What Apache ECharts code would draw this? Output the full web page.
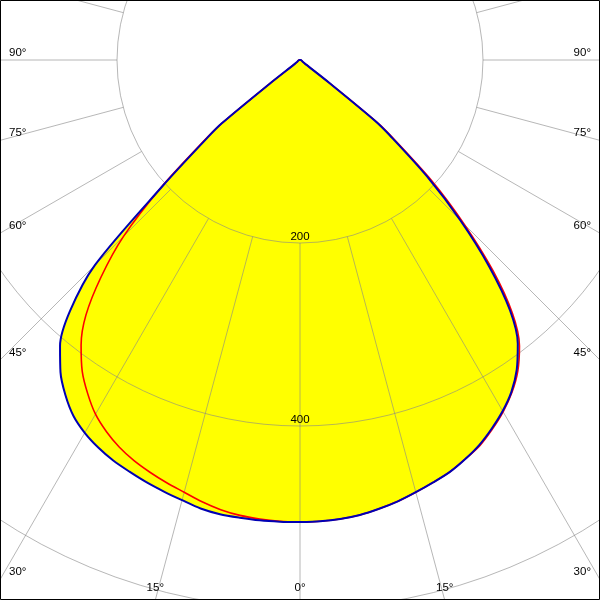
<!DOCTYPE html>
<html><head><meta charset="utf-8">
<script src="https://cdn.jsdelivr.net/npm/echarts@6/dist/echarts.min.js"></script>
<style>html,body{margin:0;padding:0;background:#fff}#c{width:600px;height:600px}</style>
</head><body><div id="c"></div>
<script>
// gamma angles (degrees from nadir)
const gammaAngles = [0,2.5,5,7.5,10,12.5,15,17.5,20,22.5,25,27.5,30,32.5,35,37.5,40,42.5,45,47.5,50,51,52,53,55,60,70,80,90,105,120,135,150,165,180];
// C0 plane (right half, blue)
const c0Values   = [505,504.5,503.5,501.5,498,494,489,484,479,472,464,454,443,430,413,391,357,306,248,188,128,105,40,8,4,3,2,1.5,1,0.5,0,0,0,0,0];
// C180 plane (left half, blue)
const c180Values = [505,505,505,504.5,504,502,498,494.5,491,487,483,477.5,470.5,461,447,430,408,372,317,203,132,110,42,8,4,3,2,1.5,1,0.5,0,0,0,0,0];
// C90 plane (right half, red)
const c90Values  = [505,504.5,503.5,501.5,498,494,489,484,479,472,465,455,444,431,415,394,361,312,254,195,132,108,40,8,4,3,2,1.5,1,0.5,0,0,0,0,0];
// C270 plane (left half, red)
const c270Values = [505,504.5,503.5,502,499,494.5,489,484.5,479.5,474,467,458,447,432,415,393,364,322,273,205,135,110,42,8,4,3,2,1.5,1,0.5,0,0,0,0,0];
const radiusTickLabels = [200, 400];
const angleTickLabels = [0, 15, 30, 45, 60, 75, 90];

const W = 600, H = 600, CX = 300, CY = 60;
const PX_PER_UNIT = 0.915;
const R_MAX = 800;

function plane(leftVals, rightVals) {
  const pts = [];
  for (let i = 0; i < gammaAngles.length; i++) pts.push([leftVals[i], gammaAngles[i]]);
  for (let i = gammaAngles.length - 2; i >= 0; i--) pts.push([rightVals[i], 360 - gammaAngles[i]]);
  return pts;
}
const bluePts = plane(c180Values, c0Values);
const redPts = plane(c270Values, c90Values);

const gridColor = 'rgba(135,135,135,0.6)';
const font = 'Liberation Sans, Arial, sans-serif';

const graphics = [];
angleTickLabels.forEach(a => {
  const sides = a === 0 ? [0] : [-1, 1];
  sides.forEach(side => {
    const rad = a * Math.PI / 180;
    const dx = side === 0 ? 0 : side * Math.sin(rad), dy = Math.cos(rad);
    let tSide = Infinity, tBot = Infinity;
    if (dx < 0) tSide = (0 - CX) / dx;
    if (dx > 0) tSide = (W - CX) / dx;
    if (dy > 1e-9) tBot = (H - CY) / dy;
    let style;
    if (tSide < tBot) {
      const hy = CY + tSide * dy;
      style = { x: dx < 0 ? 9 : 591, y: hy - 1.5, textAlign: dx < 0 ? 'left' : 'right', textVerticalAlign: 'bottom' };
    } else {
      const hx = CX + tBot * dx;
      style = { x: hx, y: 594, textAlign: 'center', textVerticalAlign: 'bottom' };
    }
    graphics.push({ type: 'text', z: 10, style: Object.assign(style, { text: a + '°', fill: '#000', font: '11.5px ' + font }) });
  });
});
graphics.push({ type: 'rect', z: 20, shape: { x: 0.5, y: 0.5, width: W - 1, height: H - 1 }, style: { fill: 'none', stroke: '#000', lineWidth: 1 } });

const SMOOTH = 0.3;
const chart = echarts.init(document.getElementById('c'), null, { renderer: 'canvas' });
chart.setOption({
  animation: false,
  backgroundColor: '#fff',
  polar: [
    { center: [CX, CY], radius: R_MAX * PX_PER_UNIT },
    { center: [CX, CY], radius: [200 * PX_PER_UNIT, 1000] }
  ],
  angleAxis: [
    { polarIndex: 0, type: 'value', min: 0, max: 360, startAngle: -90, clockwise: true, show: true,
      axisLine: { show: false }, axisTick: { show: false }, axisLabel: { show: false }, splitLine: { show: false } },
    { polarIndex: 1, type: 'value', min: 0, max: 360, interval: 15, startAngle: -90, clockwise: true, z: 3,
      axisLine: { show: false }, axisTick: { show: false }, axisLabel: { show: false },
      splitLine: { show: true, lineStyle: { color: gridColor, width: 1 } } }
  ],
  radiusAxis: [
    { polarIndex: 0, type: 'value', min: 0, max: R_MAX, interval: 200, z: 3,
      axisLine: { show: false }, axisTick: { show: false },
      axisLabel: { show: true, margin: 0, align: 'center', verticalAlign: 'bottom', color: '#000',
        fontSize: 11.5, fontFamily: font,
        formatter: v => radiusTickLabels.indexOf(v) >= 0 ? String(v) : '' },
      splitLine: { show: true, lineStyle: { color: gridColor, width: 1 } } },
    { polarIndex: 1, type: 'value', min: 200, max: 1000, show: false, splitLine: { show: false } }
  ],
  series: [
    { type: 'line', coordinateSystem: 'polar', polarIndex: 0, data: bluePts, symbol: 'none', z: 1, smooth: SMOOTH,
      lineStyle: { width: 0 }, areaStyle: { color: '#ffff00', opacity: 1 }, silent: true },
    { type: 'line', coordinateSystem: 'polar', polarIndex: 0, data: redPts, symbol: 'none', z: 1, smooth: SMOOTH,
      lineStyle: { width: 0 }, areaStyle: { color: '#ffff00', opacity: 1 }, silent: true },
    { type: 'line', coordinateSystem: 'polar', polarIndex: 0, data: redPts, symbol: 'none', z: 5, smooth: SMOOTH,
      lineStyle: { color: '#ff0000', width: 1.6 } },
    { type: 'line', coordinateSystem: 'polar', polarIndex: 0, data: bluePts, symbol: 'none', z: 6, smooth: SMOOTH,
      lineStyle: { color: '#0000b4', width: 2 } }
  ],
  graphic: graphics
});
</script>
</body></html>
